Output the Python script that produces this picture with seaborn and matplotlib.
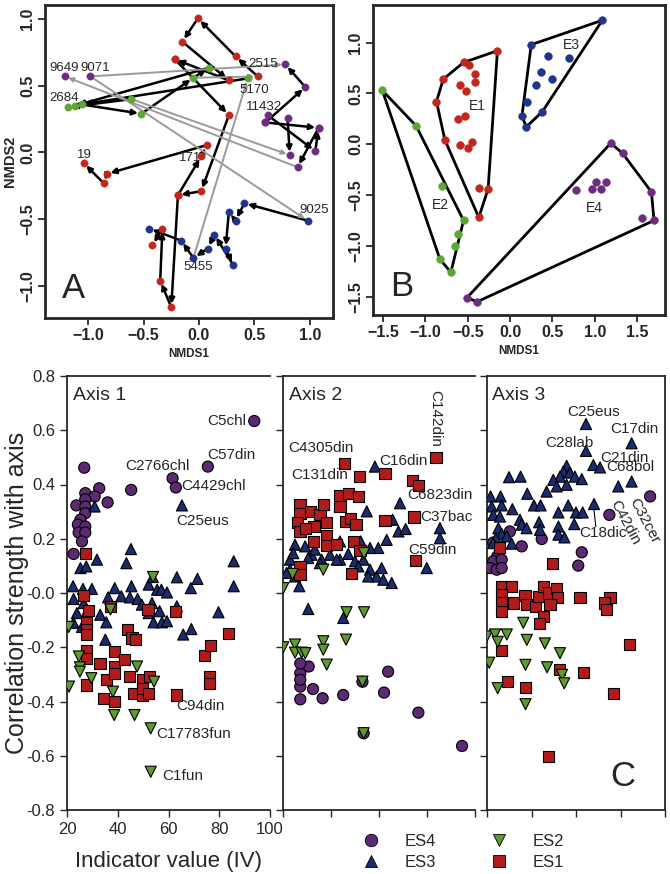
import matplotlib
matplotlib.use("Agg")
import matplotlib.pyplot as plt
import numpy as np
import pandas as pd
import seaborn as sns
from matplotlib.lines import Line2D

sns.set_style("ticks")
plt.rcParams["font.family"] = ["Liberation Sans", "DejaVu Sans"]
plt.rcParams["axes.unicode_minus"] = False

# ---------------------------------------------------------------------------
# Panel A : NMDS trajectories (points joined in time order)
# ---------------------------------------------------------------------------
A_RED_PATHS = [
    [(0.53, 0.57), (0.33, 0.72), (-0.01, 1.005), (-0.15, 0.83), (0.27, 0.54), (-0.22, 0.70)],
    [(-0.22, 0.70), (0.27, 0.28), (0.02, -0.29), (-0.19, -0.32), (-0.25, -1.16),
     (-0.35, -0.96), (-0.33, -0.57), (-0.42, -0.695)],
    [(-0.19, -0.32), (0.02, -0.03), (0.07, 0.055), (-0.83, -0.16), (-0.86, -0.23), (-1.04, -0.08)],
]
A_GREEN_PATHS = [
    [(0.44, 0.555), (-1.06, 0.36), (-0.52, 0.29), (-0.05, 0.56), (0.09, 0.635), (-1.12, 0.35)],
    [(-0.61, 0.40), (-1.18, 0.34)],
]
A_PURPLE_PATHS = [
    [(0.60, 0.225), (0.96, 0.49), (0.78, 0.66)],
    [(0.62, 0.28), (1.05, 0.01), (1.08, 0.185), (0.89, -0.11)],
    [(0.80, 0.255), (0.82, -0.02)],
    [(0.60, 0.225), (1.08, 0.185)],
    [(-1.21, 0.57)], [(-0.98, 0.57)],
]
A_BLUE_PATHS = [
    [(0.98, -0.51), (0.41, -0.38), (0.33, -0.51), (0.27, -0.445), (0.24, -0.72), (0.31, -0.845),
     (0.14, -0.615), (0.08, -0.72), (-0.05, -0.79), (-0.16, -0.66), (-0.45, -0.57)],
]
A_GREY_LINKS = [
    [(-0.98, 0.57), (0.78, 0.66)],
    [(0.89, -0.11), (-1.21, 0.57)],
    [(-0.61, 0.40), (0.82, -0.02)],
    [(-0.98, 0.57), (0.98, -0.51)],
    [(-0.05, -0.79), (0.44, 0.555)],
    [(-0.05, 0.56), (0.53, 0.57)],
]
A_SITE_TEXT = ["9649", "9071", "2515", "5170", "2684", "11432", "19", "171", "9025", "5455"]
A_SITE_X = [-1.22, -0.94, 0.58, 0.50, -1.22, 0.59, -1.03, -0.08, 1.04, -0.01]
A_SITE_Y = [0.63, 0.63, 0.66, 0.47, 0.405, 0.34, -0.02, -0.045, -0.43, -0.86]

# ---------------------------------------------------------------------------
# Panel B : site groups E1-E4
# ---------------------------------------------------------------------------
B_E1 = [(-0.15, 0.92), (-0.55, 0.805), (-0.48, 0.78), (-0.79, 0.64), (-0.41, 0.69), (-0.59, 0.58),
        (-0.41, 0.61), (-0.52, 0.52), (-0.87, 0.42), (-0.53, 0.28), (-0.62, 0.25), (-0.77, 0.04),
        (-0.59, -0.01), (-0.50, -0.04), (-0.45, 0.02), (-0.37, -0.43), (-0.26, -0.44), (-0.37, -0.72)]
B_E2 = [(-1.51, 0.53), (-1.11, 0.18), (-0.81, -0.41), (-0.55, -0.75), (-0.62, -0.88),
        (-0.65, -1.0), (-0.83, -1.13), (-0.70, -1.26)]
B_E3 = [(1.09, 1.22), (0.25, 0.98), (0.45, 0.865), (0.70, 0.845), (0.37, 0.71), (0.50, 0.64),
        (0.30, 0.58), (0.20, 0.42), (0.38, 0.32), (0.14, 0.28), (0.19, 0.17)]
B_E4 = [(1.19, 0.01), (1.33, -0.09), (1.01, -0.37), (1.13, -0.37), (0.78, -0.45), (0.97, -0.44),
        (1.07, -0.44), (1.67, -0.47), (1.56, -0.73), (1.70, -0.75), (-0.51, -1.51), (-0.39, -1.55)]
B_GROUP_TEXT = ["E1", "E2", "E3", "E4"]
B_GROUP_X = [-0.39, -0.82, 0.72, 0.99]
B_GROUP_Y = [0.38, -0.60, 0.98, -0.63]

# ---------------------------------------------------------------------------
# Panel C : (indicator value, correlation) per axis and indicator group
# ---------------------------------------------------------------------------
AX1_ES4 = [(93.8, 0.634), (75.5, 0.466), (61.6, 0.423), (62.9, 0.389), (45.3, 0.380), (26.8, 0.462),
           (27.2, 0.368), (32.7, 0.386), (30.9, 0.356), (36.0, 0.334), (23.7, 0.323), (27.2, 0.345),
           (27.2, 0.319), (27.2, 0.294), (25.3, 0.270), (24.3, 0.252), (27.2, 0.245), (24.6, 0.223),
           (27.2, 0.223), (25.9, 0.190), (22.6, 0.144)]
AX1_ES3 = [(65.3, 0.323), (30.9, 0.319), (45.2, 0.162), (31.8, 0.123), (43.4, 0.110), (85.7, 0.117),
           (85.7, 0.025), (25.3, 0.092), (27.6, 0.098), (22.4, 0.025), (26.3, 0.015), (29.8, 0.015),
           (22.6, -0.022), (38.8, 0.018), (45.4, 0.025), (41.4, -0.012), (44.8, -0.016), (47.8, -0.022),
           (52.2, 0.031), (53.8, 0.059), (55.5, 0.012), (57.2, 0.012), (59.4, 0.002), (63.3, 0.058),
           (71.4, 0.052), (68.8, 0.018), (36.2, -0.016), (33.1, -0.080), (35.5, -0.108), (35.1, -0.172),
           (49.5, -0.043), (53.5, -0.037), (52.2, -0.074), (56.5, -0.067), (63.3, -0.049), (54.1, -0.108),
           (57.4, -0.108), (59.4, -0.104), (65.8, -0.153), (69.0, -0.133), (79.7, -0.071), (23.9, -0.074),
           (22.6, -0.110), (25.9, -0.125), (26.6, -0.037), (27.9, -0.067)]
AX1_ES2 = [(53.9, 0.059), (20.7, -0.125), (37.1, -0.061), (20.8, -0.345), (24.7, -0.234), (25.1, -0.274),
           (25.1, -0.290), (29.6, -0.314), (38.1, -0.364), (38.6, -0.450), (46.6, -0.450), (47.6, -0.271),
           (53.0, -0.499), (54.3, -0.327), (53.0, -0.659)]
AX1_ES1 = [(27.2, 0.144), (26.6, -0.010), (28.5, -0.064), (37.1, -0.049), (51.9, -0.061), (62.9, -0.067),
           (27.6, -0.110), (27.6, -0.135), (27.6, -0.153), (44.0, -0.135), (45.6, -0.166), (46.9, -0.172),
           (83.7, -0.150), (27.6, -0.212), (27.6, -0.241), (27.6, -0.339), (33.0, -0.261), (34.4, -0.388),
           (35.7, -0.320), (38.6, -0.216), (38.6, -0.271), (38.6, -0.296), (38.6, -0.400), (42.8, -0.244),
           (44.5, -0.308), (46.2, -0.370), (49.6, -0.320), (49.6, -0.376), (49.6, -0.351), (52.1, -0.370),
           (52.6, -0.308), (63.1, -0.376), (74.1, -0.232), (76.1, -0.308), (76.1, -0.333), (76.7, -0.195)]

AX2_ES4 = [(27.2, -0.296), (27.2, -0.345), (27.2, -0.392), (30.7, -0.271), (32.5, -0.354), (36.5, -0.388),
           (45.1, -0.376), (53.1, -0.327), (53.6, -0.517), (62.1, -0.367), (63.8, -0.290), (76.4, -0.441),
           (94.6, -0.564), (27.2, -0.260), (27.2, -0.320)]
AX2_ES3 = [(58.3, 0.466), (68.75, 0.331), (54.9, 0.301), (65.7, 0.270), (68.1, 0.227), (71.1, 0.236),
           (85.4, 0.239), (85.4, 0.202), (63.2, 0.196), (59.7, 0.166), (56.25, 0.166), (52.4, 0.190),
           (43.75, 0.190), (25.0, 0.178), (29.2, 0.172), (31.9, 0.141), (36.1, 0.123), (39.6, 0.141),
           (43.75, 0.123), (47.2, 0.144), (50.0, 0.117), (53.5, 0.123), (56.25, 0.086), (59.0, 0.061),
           (61.1, 0.092), (65.3, 0.037), (55.5, 0.061), (35.4, 0.110), (22.9, 0.123), (22.9, 0.086),
           (21.5, 0.074), (25.0, 0.061), (26.8, 0.025), (79.9, 0.092), (30.5, -0.059), (45.1, -0.092),
           (24.3, 0.147), (30.5, 0.129), (33.3, 0.160), (42.4, 0.123), (51.4, 0.098), (61.8, 0.049)]
AX2_ES2 = [(20.1, 0.018), (36.8, 0.086), (53.75, -0.071), (46.5, -0.071), (46.25, -0.172), (20.1, -0.200),
           (25.0, -0.190), (25.0, -0.220), (27.8, -0.220), (36.8, -0.178), (36.8, -0.209), (38.2, -0.264),
           (29.3, -0.222), (53.1, -0.327), (53.6, -0.517), (24.0, 0.070), (53.75, 0.147)]
AX2_ES1 = [(83.75, 0.500), (45.8, 0.478), (51.7, 0.429), (62.5, 0.439), (73.9, 0.415), (76.4, 0.395),
           (74.6, 0.280), (75.3, 0.119), (43.75, 0.358), (47.2, 0.366), (51.4, 0.356), (43.75, 0.319),
           (27.1, 0.325), (27.1, 0.294), (31.5, 0.300), (35.4, 0.291), (36.8, 0.325), (38.2, 0.261),
           (32.9, 0.245), (26.0, 0.260), (27.1, 0.227), (29.2, 0.239), (46.25, 0.264), (48.2, 0.276),
           (50.4, 0.252), (62.5, 0.266), (32.6, 0.190), (38.2, 0.211), (38.2, 0.174), (42.4, 0.178),
           (49.3, 0.190), (52.1, 0.157), (27.1, 0.098), (27.1, 0.067), (48.6, 0.071)]

AX3_ES4 = [(93.3, 0.356), (75.0, 0.288), (30.3, 0.227), (44.6, 0.199), (35.6, 0.172), (22.8, 0.186),
           (24.6, 0.135), (22.8, 0.117), (26.6, 0.123), (21.3, 0.092), (24.4, 0.086), (26.6, 0.092),
           (62.6, 0.150), (61.0, 0.101)]
AX3_ES3 = [(64.5, 0.623), (85.0, 0.552), (64.5, 0.524), (67.8, 0.472), (70.8, 0.463), (85.0, 0.411),
           (79.0, 0.393), (55.8, 0.469), (54.3, 0.448), (57.3, 0.444), (59.5, 0.429), (52.8, 0.429),
           (49.8, 0.417), (55.8, 0.399), (62.6, 0.420), (46.8, 0.374), (51.3, 0.393), (29.9, 0.427),
           (35.1, 0.429), (38.1, 0.366), (21.6, 0.356), (26.1, 0.356), (22.1, 0.319), (26.6, 0.323),
           (31.4, 0.309), (41.1, 0.323), (44.1, 0.323), (52.1, 0.297), (56.5, 0.323), (60.0, 0.297),
           (63.0, 0.297), (68.1, 0.328), (22.8, 0.288), (25.8, 0.282), (34.8, 0.270), (35.6, 0.252),
           (37.8, 0.239), (43.4, 0.261), (43.8, 0.233), (52.1, 0.245), (59.2, 0.254), (52.1, 0.215),
           (54.8, 0.205), (25.1, 0.239), (26.6, 0.218), (24.0, 0.202), (28.9, 0.209), (22.8, 0.184),
           (31.1, 0.182)]
AX3_ES1 = [(25.8, 0.169), (49.5, 0.108), (26.6, 0.025), (31.1, 0.025), (26.6, -0.006), (26.6, -0.037),
           (26.6, -0.067), (31.8, -0.037), (37.1, -0.010), (37.8, -0.043), (41.6, -0.049), (43.1, -0.012),
           (45.3, 0.025), (47.6, 0.000), (51.3, 0.015), (51.6, -0.018), (48.3, -0.043), (45.3, -0.086),
           (43.4, -0.114), (61.8, -0.018), (75.3, -0.018), (73.0, -0.037), (73.8, -0.061),
           (26.4, -0.212), (29.1, -0.327), (37.3, -0.348), (52.4, -0.281), (63.4, -0.293), (76.9, -0.370),
           (84.0, -0.191), (47.6, -0.603)]
AX3_ES2 = [(19.9, -0.160), (23.6, -0.153), (28.9, -0.153), (36.3, -0.110), (21.0, -0.257), (24.8, -0.180),
           (24.8, -0.351), (37.3, -0.265), (37.3, -0.410), (46.0, -0.186), (47.0, -0.274), (52.8, -0.222),
           (53.7, -0.302), (54.7, -0.333), (37.9, -0.173)]

C_AXIS_NAMES = ["Axis 1", "Axis 2", "Axis 3"]
C_LABEL_TEXT = [
    ["C5chl", "C57din", "C2766chl", "C4429chl", "C25eus", "C94din", "C17783fun", "C1fun"],
    ["C4305din", "C131din", "C16din", "C6823din", "C37bac", "C59din", "C142din"],
    ["C25eus", "C17din", "C28lab", "C21din", "C68bol", "C18dic", "C32cer", "C42din"],
]
C_LABEL_X = [[90.5, 75.3, 42.9, 65.0, 63.0, 63.1, 55.3, 57.5],
             [22.2, 23.3, 60.2, 71.7, 77.1, 72.0, 83.3],
             [56.1, 75.3, 46.1, 70.8, 73.8, 61.5, 85.5, 77.0]]
C_LABEL_Y = [[0.634, 0.509, 0.469, 0.393, 0.264, -0.416, -0.52, -0.675],
             [0.534, 0.436, 0.488, 0.362, 0.282, 0.160, 0.75],
             [0.669, 0.604, 0.552, 0.497, 0.463, 0.221, 0.345, 0.34]]

COL_A = {"red": "#c0271d", "green": "#5ea532", "purple": "#6b2d7f", "blue": "#203489"}
COL_C = {"ES4": "#5c2a72", "ES3": "#1c2a6e", "ES2": "#5e9a2e", "ES1": "#b01c1c"}
MARK_C = {"ES4": "o", "ES3": "^", "ES2": "v", "ES1": "s"}


def convex_hull(points):
    pts = sorted(set(points))

    def cross(o, a, b):
        return (a[0] - o[0]) * (b[1] - o[1]) - (a[1] - o[1]) * (b[0] - o[0])

    lower, upper = [], []
    for p in pts:
        while len(lower) >= 2 and cross(lower[-2], lower[-1], p) <= 0:
            lower.pop()
        lower.append(p)
    for p in reversed(pts):
        while len(upper) >= 2 and cross(upper[-2], upper[-1], p) <= 0:
            upper.pop()
        upper.append(p)
    return lower[:-1] + upper[:-1]


def nmds_frame(ax):
    for s in ax.spines.values():
        s.set_linewidth(2.0)
        s.set_visible(True)
    ax.tick_params(direction="out", length=5, width=1.3, labelsize=11.5, pad=2)
    for lab in ax.get_xticklabels() + ax.get_yticklabels():
        lab.set_fontweight("bold")


def fmt(v):
    return f"{v:.1f}".replace("-", "\u2212")


fig = plt.figure(figsize=(6.7, 8.74), dpi=100)

# ---------------------------- panel A ----------------------------
axA = fig.add_axes([45 / 670, 1 - 318 / 874, 288 / 670, 313 / 874])
for paths, key in [(A_RED_PATHS, "red"), (A_GREEN_PATHS, "green"),
                   (A_PURPLE_PATHS, "purple"), (A_BLUE_PATHS, "blue")]:
    for path in paths:
        for p0, p1 in zip(path[:-1], path[1:]):
            axA.annotate("", xy=p1, xytext=p0,
                         arrowprops=dict(arrowstyle="-|>", color="black", lw=1.8,
                                         mutation_scale=8, shrinkA=0, shrinkB=2.5))
for p0, p1 in A_GREY_LINKS:
    axA.annotate("", xy=p1, xytext=p0,
                 arrowprops=dict(arrowstyle="-|>", color="#9a9a9a", lw=1.4,
                                 mutation_scale=7, shrinkA=0, shrinkB=2.5))
for paths, key in [(A_RED_PATHS, "red"), (A_GREEN_PATHS, "green"),
                   (A_PURPLE_PATHS, "purple"), (A_BLUE_PATHS, "blue")]:
    pts = pd.DataFrame([p for path in paths for p in path], columns=["x", "y"])
    sns.scatterplot(data=pts, x="x", y="y", color=COL_A[key], s=28, edgecolor=COL_A[key],
                    linewidth=0.3, zorder=4, ax=axA)
for t, x, y in zip(A_SITE_TEXT, A_SITE_X, A_SITE_Y):
    axA.text(x, y, t, fontsize=9.5, ha="center", va="center", zorder=5)
axA.set_xlim(-1.39, 1.21)
axA.set_ylim(-1.24, 1.105)
xt = [-1.0, -0.5, 0.0, 0.5, 1.0]
axA.set_xticks(xt, [fmt(v) for v in xt])
axA.set_yticks(xt, [fmt(v) for v in xt], rotation=90, va="center")
axA.set_xlabel("NMDS1", fontsize=8.5, fontweight="bold", labelpad=4)
axA.set_ylabel("NMDS2", fontsize=10.5, fontweight="bold", labelpad=2)
nmds_frame(axA)
axA.text(0.06, 0.04, "A", transform=axA.transAxes, fontsize=25, ha="left", va="bottom")

# ---------------------------- panel B ----------------------------
axB = fig.add_axes([373 / 670, 1 - 315 / 874, 292 / 670, 310 / 874])
for grp, key in [(B_E1, "red"), (B_E2, "green"), (B_E3, "blue"), (B_E4, "purple")]:
    h = convex_hull(grp)
    hx = [p[0] for p in h] + [h[0][0]]
    hy = [p[1] for p in h] + [h[0][1]]
    axB.plot(hx, hy, color="black", lw=2.0, zorder=2)
    df = pd.DataFrame(grp, columns=["x", "y"])
    sns.scatterplot(data=df, x="x", y="y", color=COL_A[key], s=32, edgecolor=COL_A[key],
                    linewidth=0.3, zorder=4, ax=axB)
for t, x, y in zip(B_GROUP_TEXT, B_GROUP_X, B_GROUP_Y):
    axB.text(x, y, t, fontsize=10, ha="center", va="center", zorder=5)
axB.set_xlim(-1.62, 1.83)
axB.set_ylim(-1.68, 1.37)
bx = [-1.5, -1.0, -0.5, 0.0, 0.5, 1.0, 1.5]
by = [-1.5, -1.0, -0.5, 0.0, 0.5, 1.0]
axB.set_xticks(bx, [fmt(v) for v in bx])
axB.set_yticks(by, [fmt(v) for v in by], rotation=90, va="center")
axB.set_xlabel("NMDS1", fontsize=8.5, fontweight="bold", labelpad=4)
axB.set_ylabel("")
nmds_frame(axB)
axB.text(0.06, 0.04, "B", transform=axB.transAxes, fontsize=25, ha="left", va="bottom")

# ---------------------------- panel C ----------------------------
c_lefts = [67, 283, 487]
c_widths = [203, 192, 178]
c_data = [
    [("ES4", AX1_ES4), ("ES3", AX1_ES3), ("ES1", AX1_ES1), ("ES2", AX1_ES2)],
    [("ES4", AX2_ES4), ("ES3", AX2_ES3), ("ES1", AX2_ES1), ("ES2", AX2_ES2)],
    [("ES4", AX3_ES4), ("ES3", AX3_ES3), ("ES1", AX3_ES1), ("ES2", AX3_ES2)],
]
yt = np.round(np.arange(-0.8, 0.81, 0.2), 1)
for i in range(3):
    ax = fig.add_axes([c_lefts[i] / 670, 1 - 810 / 874, c_widths[i] / 670, 434 / 874])
    frames = []
    for name, pts in c_data[i]:
        d = pd.DataFrame(pts, columns=["iv", "r"])
        d["group"] = name
        frames.append(d)
    df = pd.concat(frames, ignore_index=True)
    sns.scatterplot(data=df, x="iv", y="r", hue="group", style="group", palette=COL_C,
                    markers=MARK_C, s=64, edgecolor="black", linewidth=0.8,
                    legend=False, zorder=3, ax=ax)
    ax.set_xlim(20, 100)
    ax.set_ylim(-0.8, 0.8)
    ax.set_xticks([20, 40, 60, 80, 100])
    ax.set_yticks(yt)
    ax.tick_params(direction="out", length=5, width=1.0, labelsize=12)
    for s in ax.spines.values():
        s.set_linewidth(1.3)
    ax.spines["right"].set_visible(i == 2)
    ax.set_xlabel("")
    ax.set_ylabel("")
    if i == 0:
        ax.set_yticklabels([f"{v:.1f}" for v in yt])
        ax.set_xticklabels(["20", "40", "60", "80", "100"])
        ax.set_ylabel("Correlation strength with axis", fontsize=18)
        ax.yaxis.set_label_coords(-0.185, 0.5)
        ax.set_xlabel("Indicator value (IV)", fontsize=16, labelpad=10)
    else:
        ax.set_yticklabels([])
        ax.set_xticklabels([])
    ax.text(0.03, 0.975, C_AXIS_NAMES[i], transform=ax.transAxes, fontsize=14,
            ha="left", va="top")
    for t, x, y in zip(C_LABEL_TEXT[i], C_LABEL_X[i], C_LABEL_Y[i]):
        kw = dict(fontsize=11, ha="left", va="center", zorder=5)
        if t == "C5chl":
            kw["ha"] = "right"
        if t == "C142din":
            kw.update(rotation=-90, ha="center", va="top")
        if t in ("C32cer", "C42din"):
            kw.update(rotation=-62, rotation_mode="anchor")
        ax.text(x, y, t, **kw)
    if i == 2:
        ax.plot([68.1, 68.9], [0.305, 0.245], color="black", lw=0.8)
        ax.text(0.76, 0.04, "C", transform=ax.transAxes, fontsize=25, ha="center",
                va="bottom")

handles = [Line2D([], [], marker=MARK_C[g], linestyle="none", markerfacecolor=COL_C[g],
                  markeredgecolor="black", markeredgewidth=0.6, markersize=9)
           for g in ["ES4", "ES3", "ES2", "ES1"]]
fig.legend(handles, ["ES4", "ES3", "ES2", "ES1"], ncol=2, loc="center",
           bbox_to_anchor=(0.685, 0.025), frameon=False, fontsize=12,
           columnspacing=2.8, handletextpad=1.0, labelspacing=0.35)

fig.savefig("out.png", dpi=100)
